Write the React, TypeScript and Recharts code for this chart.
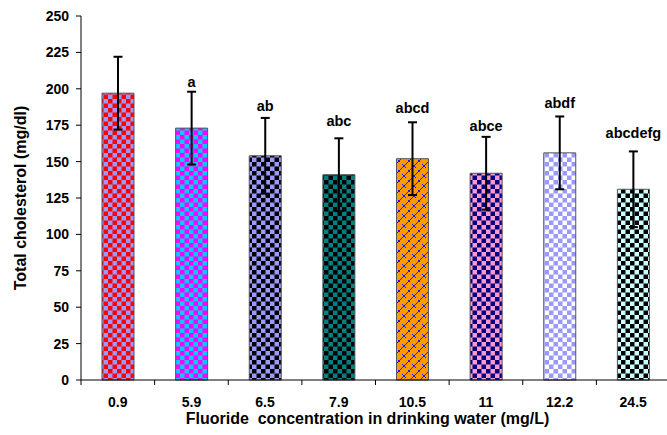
import { BarChart, Bar, XAxis, YAxis, Cell, ErrorBar, LabelList } from 'recharts';

const categories = ['0.9', '5.9', '6.5', '7.9', '10.5', '11', '12.2', '24.5'];
const meanValues = [197, 173, 154, 141, 152, 142, 156, 131];
const sdValues = [25, 25, 26, 25, 25, 25, 25, 26];
const letters = ['', 'a', 'ab', 'abc', 'abcd', 'abce', 'abdf', 'abcdefg'];
const yTicks = [0, 25, 50, 75, 100, 125, 150, 175, 200, 225, 250];

const data = categories.map((c, i) => ({ name: c, mean: meanValues[i], sd: sdValues[i], letter: letters[i] }));

const font = '"Liberation Sans", Arial, sans-serif';

// gap (px) between the error cap and the letter baseline, the letters were placed by hand
const letterLift = [0, 5, 7, 12, 9, 6, 8, 13];

// checker colours [a, b] for each bar; index 4 is the orange brick one
const checkers: [string, string][] = [
  ['#ff0000', '#9999ff'],
  ['#ff00ff', '#00ccff'],
  ['#000000', '#9999ff'],
  ['#000000', '#008080'],
  ['#ff9900', '#1a1aff'],
  ['#000080', '#ff99cc'],
  ['#ffffff', '#9999ff'],
  ['#000000', '#ccffff'],
];

const XTick = (props: any) => {
  const { x, y, payload, index, width, visibleTicksCount } = props;
  const band = width / visibleTicksCount;
  const axisY = y - 17;
  return (
    <g>
      <line x1={x - band / 2} x2={x - band / 2} y1={axisY} y2={axisY + 5} stroke="#000" />
      {index === visibleTicksCount - 1 && (
        <line x1={x + band / 2} x2={x + band / 2} y1={axisY} y2={axisY + 5} stroke="#000" />
      )}
      <text x={x} y={y} dy="0.71em" textAnchor="middle" fontFamily={font} fontWeight="bold" fontSize={14} fill="#000">
        {payload.value}
      </text>
    </g>
  );
};

const LetterLabel = (props: any) => {
  const { x, y, width, height, index } = props;
  const d = data[index];
  if (!d.letter) return null;
  const top = y - (d.sd * height) / d.mean;
  return (
    <text x={x + width / 2} y={top - letterLift[index]} textAnchor="middle" fontFamily={font} fontWeight="bold" fontSize={14.5} fill="#000">
      {d.letter}
    </text>
  );
};

export default function App() {
  return (
    <div style={{ position: 'absolute', left: 0, top: 0, width: 667, height: 435, overflow: 'hidden', background: '#fff' }}>
      <BarChart width={670} height={435} data={data} margin={{ top: 16, right: 0, left: 0, bottom: 0 }}>
        <defs>
          {checkers.map(([a, b], i) =>
            i === 4 ? (
              <pattern key={i} id={`pat${i}`} patternUnits="userSpaceOnUse" width={10} height={10}>
                <rect width={10} height={10} fill={a} />
                <path d="M0,10 L10,0 M-2,2 L2,-2 M8,12 L12,8 M2,4 L6,8 M7,-1 L11,3" stroke={b} strokeWidth={1} fill="none" />
              </pattern>
            ) : (
              <pattern key={i} id={`pat${i}`} patternUnits="userSpaceOnUse" width={9} height={9}>
                <rect width={9} height={9} fill={b} />
                <rect width={4.5} height={4.5} fill={a} />
                <rect x={4.5} y={4.5} width={4.5} height={4.5} fill={a} />
              </pattern>
            )
          )}
        </defs>
        <XAxis
          dataKey="name"
          height={55}
          stroke="#000"
          tickLine={false}
          tickSize={5}
          tickMargin={12}
          tick={<XTick />}
          interval={0}
          label={(p: any) => {
            const vb = p.viewBox;
            return (
              <text
                x={vb.x + vb.width / 2 - 8}
                y={vb.y + 40}
                dominantBaseline="middle"
                textAnchor="middle"
                fontFamily={font}
                fontWeight="bold"
                fontSize={16}
                style={{ whiteSpace: 'pre' }}
              >
                Fluoride  concentration in drinking water (mg/L)
              </text>
            );
          }}
        />
        <YAxis
          width={81}
          domain={[0, 250]}
          ticks={yTicks}
          interval={0}
          stroke="#000"
          tickSize={5}
          tickMargin={7}
          tick={{ fill: '#000', fontFamily: font, fontWeight: 'bold', fontSize: 14 }}
          label={(p: any) => {
            const vb = p.viewBox;
            const cx = vb.x + 22;
            const cy = vb.y + vb.height / 2;
            return (
              <text
                x={cx}
                y={cy}
                transform={`rotate(-90, ${cx}, ${cy})`}
                dominantBaseline="middle"
                textAnchor="middle"
                fontFamily={font}
                fontWeight="bold"
                fontSize={16}
              >
                Total cholesterol (mg/dl)
              </text>
            );
          }}
        />
        <Bar dataKey="mean" barSize={32} stroke="#555" strokeWidth={1} isAnimationActive={false}>
          {data.map((d, i) => (
            <Cell key={d.name} fill={`url(#pat${i})`} />
          ))}
          <ErrorBar dataKey="sd" direction="y" width={4.5} stroke="#000" strokeWidth={2} />
          <LabelList dataKey="letter" content={<LetterLabel />} />
        </Bar>
      </BarChart>
    </div>
  );
}
